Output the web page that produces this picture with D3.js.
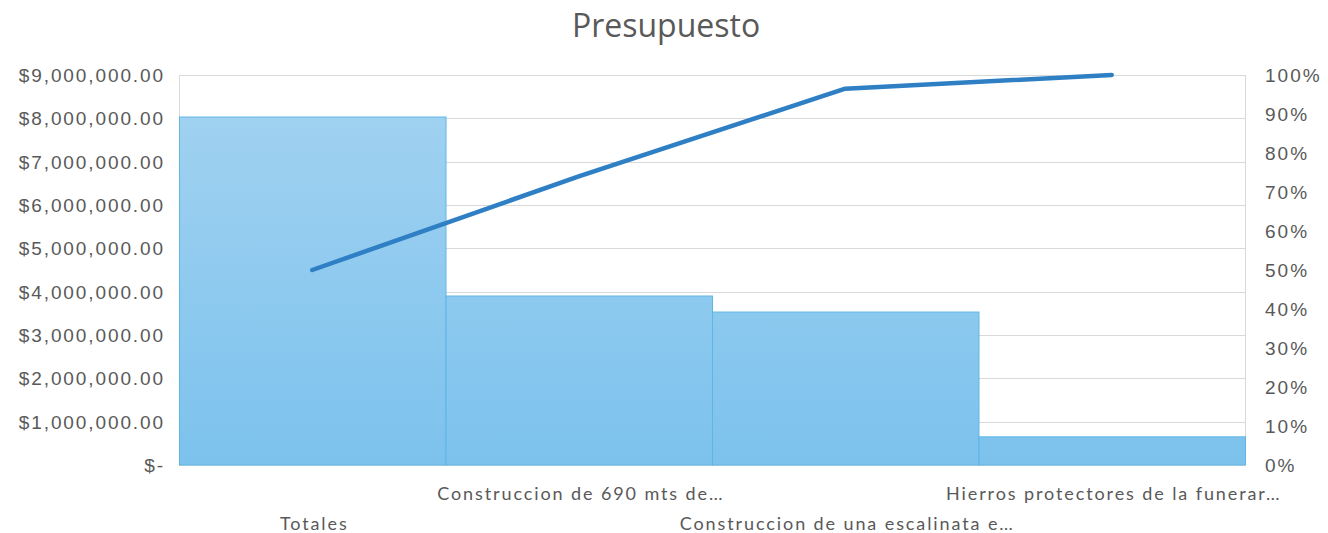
<!DOCTYPE html>
<html><head><meta charset="utf-8">
<script src="https://cdn.jsdelivr.net/npm/d3@7"></script>
<style>
html,body{margin:0;padding:0;background:#fff;}
svg{display:block;font-family:Lato, "Noto Sans", sans-serif;}
</style></head>
<body>
<svg id="chart" width="1328" height="533"></svg>
<script>
const title = "Presupuesto";
const categories = ["Totales", "Construccion de 690 mts de…", "Construccion de una escalinata e…", "Hierros protectores de la funerar…"];
const barValues = [8030000, 3900000, 3530000, 650000];
const cumulativePct = [0.50, 0.74, 0.965, 1.0];
const leftTicks = [0, 1000000, 2000000, 3000000, 4000000, 5000000, 6000000, 7000000, 8000000, 9000000];
const rightTicks = [0, 0.1, 0.2, 0.3, 0.4, 0.5, 0.6, 0.7, 0.8, 0.9, 1.0];

const svg = d3.select("#chart");
const m = {left: 179, right: 1245, top: 75, bottom: 465};
const textColor = "#595959";

const defs = svg.append("defs");
const grad = defs.append("linearGradient").attr("id","barGrad")
  .attr("gradientUnits","userSpaceOnUse").attr("x1",0).attr("x2",0).attr("y1", m.top).attr("y2", m.bottom);
grad.append("stop").attr("offset","0%").attr("stop-color","#a4d3f1");
grad.append("stop").attr("offset","100%").attr("stop-color","#7cc2ed");

const x = d3.scaleBand().domain(categories).range([m.left, m.right]).padding(0);
const y = d3.scaleLinear().domain([0, 9000000]).range([m.bottom, m.top]);
const y2 = d3.scaleLinear().domain([0, 1]).range([m.bottom, m.top]);

// gridlines
svg.append("g").selectAll("line").data(leftTicks).join("line")
  .attr("x1", m.left).attr("x2", m.right)
  .attr("y1", d => Math.round(y(d)) + 0.5).attr("y2", d => Math.round(y(d)) + 0.5)
  .attr("stroke", "#d9d9d9").attr("stroke-width", 1);
// vertical axis lines
[m.left, m.right].forEach(xx => svg.append("line").attr("x1", xx + 0.5).attr("x2", xx + 0.5)
  .attr("y1", m.top).attr("y2", m.bottom).attr("stroke", "#d9d9d9"));

// bars
svg.append("g").selectAll("rect").data(barValues).join("rect")
  .attr("x", (d, i) => x(categories[i]) + 0.5)
  .attr("width", x.bandwidth())
  .attr("y", d => y(d))
  .attr("height", d => m.bottom - y(d))
  .attr("fill", "url(#barGrad)")
  .attr("stroke", "#5fb6e6").attr("stroke-width", 1);

// line
const line = d3.line().x((d, i) => x(categories[i]) + x.bandwidth() / 2).y(d => y2(d));
svg.append("path").datum(cumulativePct).attr("d", line)
  .attr("fill", "none").attr("stroke", "#2e7fc4").attr("stroke-width", 4.5)
  .attr("stroke-linecap", "round").attr("stroke-linejoin", "round");

// left axis
const fmtMoney = d => d === 0 ? "$-" : "$" + d3.format(",.2f")(d);
const ax = svg.append("g").attr("transform", `translate(${m.left},0)`)
  .call(d3.axisLeft(y).tickValues(leftTicks).tickFormat(fmtMoney).tickSize(0).tickPadding(14));
ax.select(".domain").remove();
ax.selectAll("text").attr("fill", textColor).style("font-size", "19px").style("letter-spacing", "1.9px").attr("dy", "0.35em");

// right axis
const ar = svg.append("g").attr("transform", `translate(${m.right},0)`)
  .call(d3.axisRight(y2).tickValues(rightTicks).tickFormat(d3.format(".0%")).tickSize(0).tickPadding(20));
ar.select(".domain").remove();
ar.selectAll("text").attr("fill", textColor).style("font-size", "19px").style("letter-spacing", "2px").attr("dy", "0.35em");

// category labels (staggered)
svg.append("g").selectAll("text").data(categories).join("text")
  .attr("x", d => x(d) + x.bandwidth() / 2 + 2)
  .attr("y", (d, i) => i % 2 === 0 ? 530 : 500)
  .attr("text-anchor", "middle").attr("fill", textColor).style("font-size", "18px").style("letter-spacing", "1.9px")
  .text(d => d);

// title
svg.append("text").attr("x", 666).attr("y", 37).attr("text-anchor", "middle")
  .attr("fill", textColor).style("font-family", "'Open Sans', sans-serif").style("font-size", "32px").text(title);
</script>
</body></html>
